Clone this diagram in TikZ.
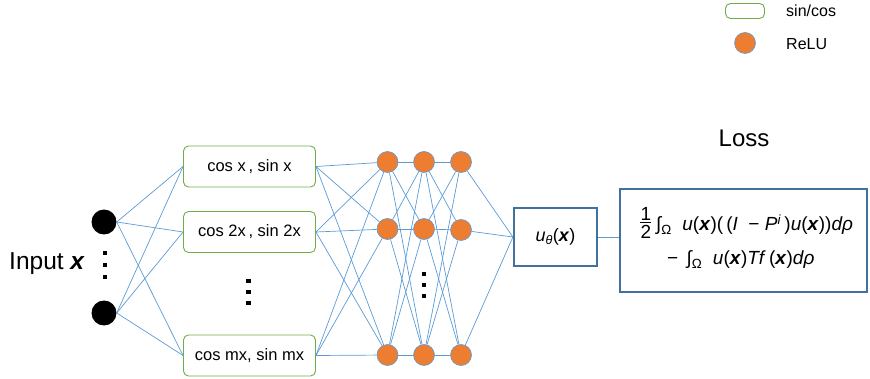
\documentclass[tikz,border=0pt]{standalone}
\usepackage{fontspec}
\setmainfont{Liberation Sans}
\definecolor{conn}{HTML}{5B9BD5}
\definecolor{reluor}{HTML}{ED7D31}
\definecolor{gborder}{HTML}{70AD47}
\definecolor{dblue}{HTML}{41719C}
\newcommand{\bx}{\textbf{\textit{x}}}
\begin{document}
\begin{tikzpicture}[x=1pt,y=-1pt,
  inp/.style={circle,fill=black,minimum size=25pt,inner sep=0pt},
  gbox/.style={draw=gborder,line width=0.9pt,rounded corners=5pt,minimum width=132pt,minimum height=41pt,inner sep=0pt,font=\fontsize{16.5}{19}\selectfont},
  relu/.style={circle,fill=reluor,draw=conn,line width=0.6pt,minimum size=21pt,inner sep=0pt},
  ubox/.style={draw=dblue,line width=2.2pt,minimum width=83pt,minimum height=58pt,inner sep=0pt,font=\fontsize{18}{20}\selectfont},
  lbox/.style={draw=dblue,line width=2.2pt,minimum width=247pt,minimum height=103pt,inner sep=0pt},
  wire/.style={draw=conn,line width=0.7pt},
  dotsq/.style={rectangle,fill=black,minimum size=4.6pt,inner sep=0pt},
  lbl/.style={inner sep=0pt,font=\fontsize{16}{19}\selectfont},
  ftext/.style={inner sep=0pt,font=\fontsize{19}{22}\selectfont}]
\useasboundingbox (0,0) rectangle (870,379);
% legend
\node[gbox,minimum width=39pt,minimum height=15pt] (lg) at (745,11) {};
\node[lbl,anchor=west] (lgt) at (786,11) {sin/cos};
\node[relu] (lr) at (745,43) {};
\node[lbl,anchor=west] (lrt) at (786,44) {ReLU};
% input
\node[inp] (in1) at (104,222) {};
\node[inp] (in2) at (104,313) {};
\node[dotsq] (d1) at (105,253) {};
\node[dotsq] (d2) at (105,265) {};
\node[dotsq] (d3) at (105,277) {};
\node[inner sep=0pt,anchor=west,font=\fontsize{24.5}{28}\selectfont] (inl) at (9,264) {Input \bx};
% sin/cos boxes
\node[gbox] (g1) at (249.5,166.5) {cos x\,, sin x};
\node[gbox] (g2) at (249.5,232) {cos 2x\,, sin 2x};
\node[gbox] (g3) at (249.5,355.5) {cos mx, sin mx};
\node[dotsq] (e1) at (248.5,281) {};
\node[dotsq] (e2) at (248.5,292) {};
\node[dotsq] (e3) at (248.5,303) {};
% relu layers
\node[relu] (a1) at (387.5,162) {};
\node[relu] (a2) at (387.5,229) {};
\node[relu] (a3) at (387.5,355) {};
\node[relu] (b1) at (424,162) {};
\node[relu] (b2) at (424,229) {};
\node[relu] (b3) at (424,355) {};
\node[relu] (c1) at (461,162) {};
\node[relu] (c2) at (461,230) {};
\node[relu] (c3) at (461,355) {};
\node[dotsq] (f1) at (424,274) {};
\node[dotsq] (f2) at (424,285) {};
\node[dotsq] (f3) at (424,296) {};
% output
\node[ubox] (u) at (555.5,237) {\textit{u}\textsubscript{\textit{θ}}(\bx)};
\node[lbox] (loss) at (743.5,240.5) {};
\node[inner sep=0pt,font=\fontsize{24}{28}\selectfont] (losst) at (744,138) {Loss};
% formula
\node[ftext,anchor=south] (num) at (646,221) {1};
\node[ftext,anchor=north] (den) at (646,225.5) {2};
\draw[line width=1.1pt] (num.south west) ++(-0.5,1.3) coordinate (fb1) -- (fb1 -| num.south east) coordinate (fb2);
\node[ftext,anchor=base west] (fl1) at (656,231) {∫\textsubscript{Ω}\ \ \textit{u}(\bx)(\,(\textit{I}\ \ − \textit{P}\textsuperscript{\textit{i}}\,)\textit{u}(\bx))\textit{dρ}};
\node[ftext,anchor=base west] (fl2) at (667,265) {− \,∫\textsubscript{Ω}\ \ \textit{u}(\bx)\textit{Tf}\,(\bx)\textit{dρ}};
% wires
\foreach \s in {in1,in2}{\foreach \t in {g1,g2,g3}{\draw[wire] (\s.east) -- (\t.west);}}
\foreach \s in {g1,g2,g3}{\foreach \t in {a1,a2,a3}{\draw[wire] (\s.east) -- (\t);}}
\foreach \s in {a1,a2,a3}{\foreach \t in {b1,b2,b3}{\draw[wire] (\s) -- (\t);}}
\foreach \s in {b1,b2,b3}{\foreach \t in {c1,c2,c3}{\draw[wire] (\s) -- (\t);}}
\foreach \s in {c1,c2,c3}{\draw[wire] (\s) -- (u.west);}
\draw[wire] (u.east) -- (u.east -| loss.west);
\end{tikzpicture}
\end{document}
